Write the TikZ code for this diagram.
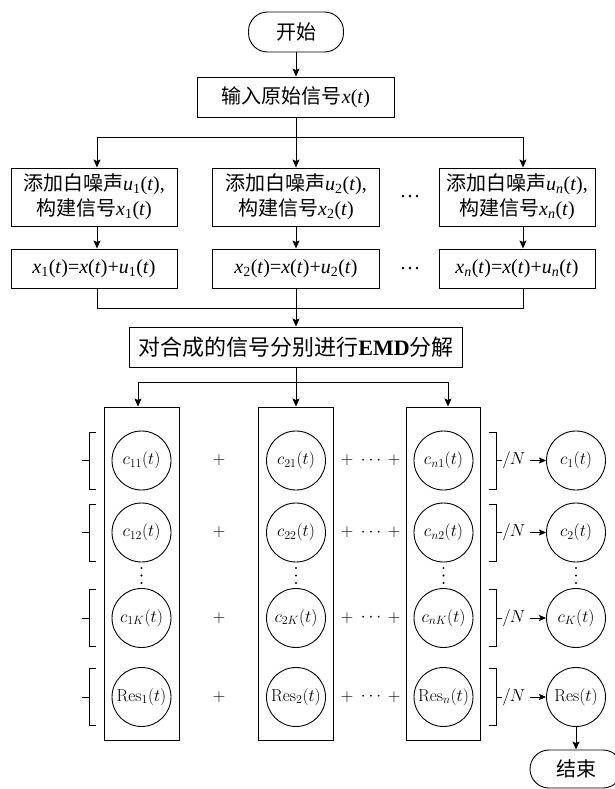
\documentclass[tikz,border=0pt]{standalone}
\usepackage[no-math]{fontspec}
\setmainfont{Liberation Serif}
\newfontfamily\cjk{Noto Sans CJK SC}
\usetikzlibrary{arrows.meta}
\newcommand\iv[1]{\textit{#1}}
\newcommand\sbn[1]{\textsubscript{#1}}
\begin{document}
\begin{tikzpicture}[x=1pt,y=-1pt,line width=0.9pt,
  >={Stealth[length=8pt,width=7pt,inset=1.5pt]},
  box/.style={draw,inner sep=0pt,align=center,font=\fontsize{20}{25}\selectfont},
  term/.style={draw,rounded corners=19pt,inner sep=0pt,font=\fontsize{20}{24}\selectfont},
  colbox/.style={draw,inner sep=0pt,minimum width=75pt,minimum height=333pt},
  circ/.style={draw,circle,minimum size=59pt,inner sep=0pt,font=\fontsize{17}{20}\selectfont},
  sym/.style={inner sep=0pt,font=\fontsize{17}{20}\selectfont}]
\useasboundingbox (0,0) rectangle (615,789);
% top part
\node[term,minimum width=95pt,minimum height=40pt] (start) at (296,32) {\cjk 开始};
\node[box,minimum width=197pt,minimum height=40pt] (input) at (296,97) {{\cjk 输入原始信号}\iv{x}(\iv{t})};
\node[box,minimum width=166pt,minimum height=58pt] (a1) at (94,197)
  {{\cjk 添加白噪声}\iv{u}\sbn{1}(\iv{t}),\\ {\cjk 构建信号}\iv{x}\sbn{1}(\iv{t})};
\node[box,minimum width=167pt,minimum height=58pt] (a2) at (296,197)
  {{\cjk 添加白噪声}\iv{u}\sbn{2}(\iv{t}),\\ {\cjk 构建信号}\iv{x}\sbn{2}(\iv{t})};
\node[box,minimum width=156pt,minimum height=58pt] (a3) at (517,197)
  {{\cjk 添加白噪声}\iv{u}\sbn{\iv{n}}(\iv{t}),\\ {\cjk 构建信号}\iv{x}\sbn{\iv{n}}(\iv{t})};
\node[box,minimum width=166pt,minimum height=39pt] (b1) at (94,268.5)
  {\iv{x}\sbn{1}(\iv{t})=\iv{x}(\iv{t})+\iv{u}\sbn{1}(\iv{t})};
\node[box,minimum width=167pt,minimum height=39pt] (b2) at (296,268.5)
  {\iv{x}\sbn{2}(\iv{t})=\iv{x}(\iv{t})+\iv{u}\sbn{2}(\iv{t})};
\node[box,minimum width=156pt,minimum height=39pt] (b3) at (517,268.5)
  {\iv{x}\sbn{\iv{n}}(\iv{t})=\iv{x}(\iv{t})+\iv{u}\sbn{\iv{n}}(\iv{t})};
\node[sym,font=\fontsize{21}{24}\selectfont] (da) at (410,197) {…};
\node[sym,font=\fontsize{21}{24}\selectfont] (db) at (410,268.5) {…};
\node[box,minimum width=333pt,minimum height=40pt,font=\fontsize{22}{26}\selectfont] (emd) at (296,347)
  {{\cjk 对合成的信号分别进行}\textbf{EMD}{\cjk 分解}};
\draw[->] (start) -- (input);
\coordinate (sL) at (97,137);
\coordinate (sR) at (523,137);
\draw[->] (input) -- (a2);
\draw (sL) -- (sR);
\draw[->] (sL) -- (sL |- a1.north);
\draw[->] (sR) -- (sR |- a3.north);
\draw[->] (sL |- a1.south) -- (sL |- b1.north);
\draw[->] (a2) -- (b2);
\draw[->] (sR |- a3.south) -- (sR |- b3.north);
\coordinate (mL) at (97,308);
\coordinate (mR) at (523,308);
\draw (sL |- b1.south) -- (mL) -- (mR) -- (sR |- b3.south);
\draw[->] (b2) -- (emd);
% columns
\node[colbox] (col1) at (141.5,573.5) {};
\node[colbox] (col2) at (296,573.5) {};
\node[colbox,minimum width=74pt] (col3) at (443.5,573.5) {};
\coordinate (tL) at (138,382);
\coordinate (tR) at (448,382);
\draw (tL) -- (tR);
\draw[->] (emd) -- (col2);
\draw[->] (tL) -- (tL |- col1.north);
\draw[->] (tR) -- (tR |- col3.north);
% circles
\node[circ] (p11) at (141.5,460.5) {$c_{11}(t)$};
\node[circ] (p12) at (141.5,532.5) {$c_{12}(t)$};
\node[circ] (p13) at (141.5,618) {$c_{1K}(t)$};
\node[circ] (p14) at (141.5,697) {$\mathrm{Res}_1(t)$};
\node[circ] (p21) at (296,460.5) {$c_{21}(t)$};
\node[circ] (p22) at (296,532.5) {$c_{22}(t)$};
\node[circ] (p23) at (296,618) {$c_{2K}(t)$};
\node[circ] (p24) at (296,697) {$\mathrm{Res}_2(t)$};
\node[circ] (p31) at (443.5,460.5) {$c_{n1}(t)$};
\node[circ] (p32) at (443.5,532.5) {$c_{n2}(t)$};
\node[circ] (p33) at (443.5,618) {$c_{nK}(t)$};
\node[circ] (p34) at (443.5,697) {$\mathrm{Res}_n(t)$};
\node[circ] (r1) at (576,460.5) {$c_{1}(t)$};
\node[circ] (r2) at (576,532.5) {$c_{2}(t)$};
\node[circ] (r3) at (576,618) {$c_{K}(t)$};
\node[circ] (r4) at (576,697) {$\mathrm{Res}(t)$};
% vertical dots
\foreach \xx in {141.5,296,443.5,576}{
  \foreach \yy in {568,575.5,583}{\fill (\xx,\yy) circle (1.1pt);}}
% brackets, plus signs, /N
\foreach \yy/\i in {460.5/1,532.5/2,618/3,697/4}{
  \draw ({96},{\yy-28.5}) -- (89,{\yy-28.5}) -- (89,{\yy+28.5}) -- (96,{\yy+28.5});
  \draw (82,\yy) -- (89,\yy);
  \draw (489,{\yy-28.5}) -- (496,{\yy-28.5}) -- (496,{\yy+28.5}) -- (489,{\yy+28.5});
  \draw (496,\yy) -- (502,\yy);
  \node[sym] (pa\i) at (219,\yy) {$+$};
  \node[sym] (pb\i) at (347,\yy) {$+$};
  \node[sym] (pc\i) at (371,\yy) {$\cdots$};
  \node[sym] (pd\i) at (394,\yy) {$+$};
  \node[sym,anchor=west] (nN\i) at (502,\yy) {$/N$};
  \draw[->,line width=0.8pt,>={Stealth[length=7pt,width=6pt,inset=1.2pt]}] ([xshift=4pt]nN\i.east) -- (r\i);
}
\node[term,minimum width=92pt,minimum height=38pt] (end) at (576,769) {\cjk 结束};
\draw[->] (r4) -- (end);
\end{tikzpicture}
\end{document}
